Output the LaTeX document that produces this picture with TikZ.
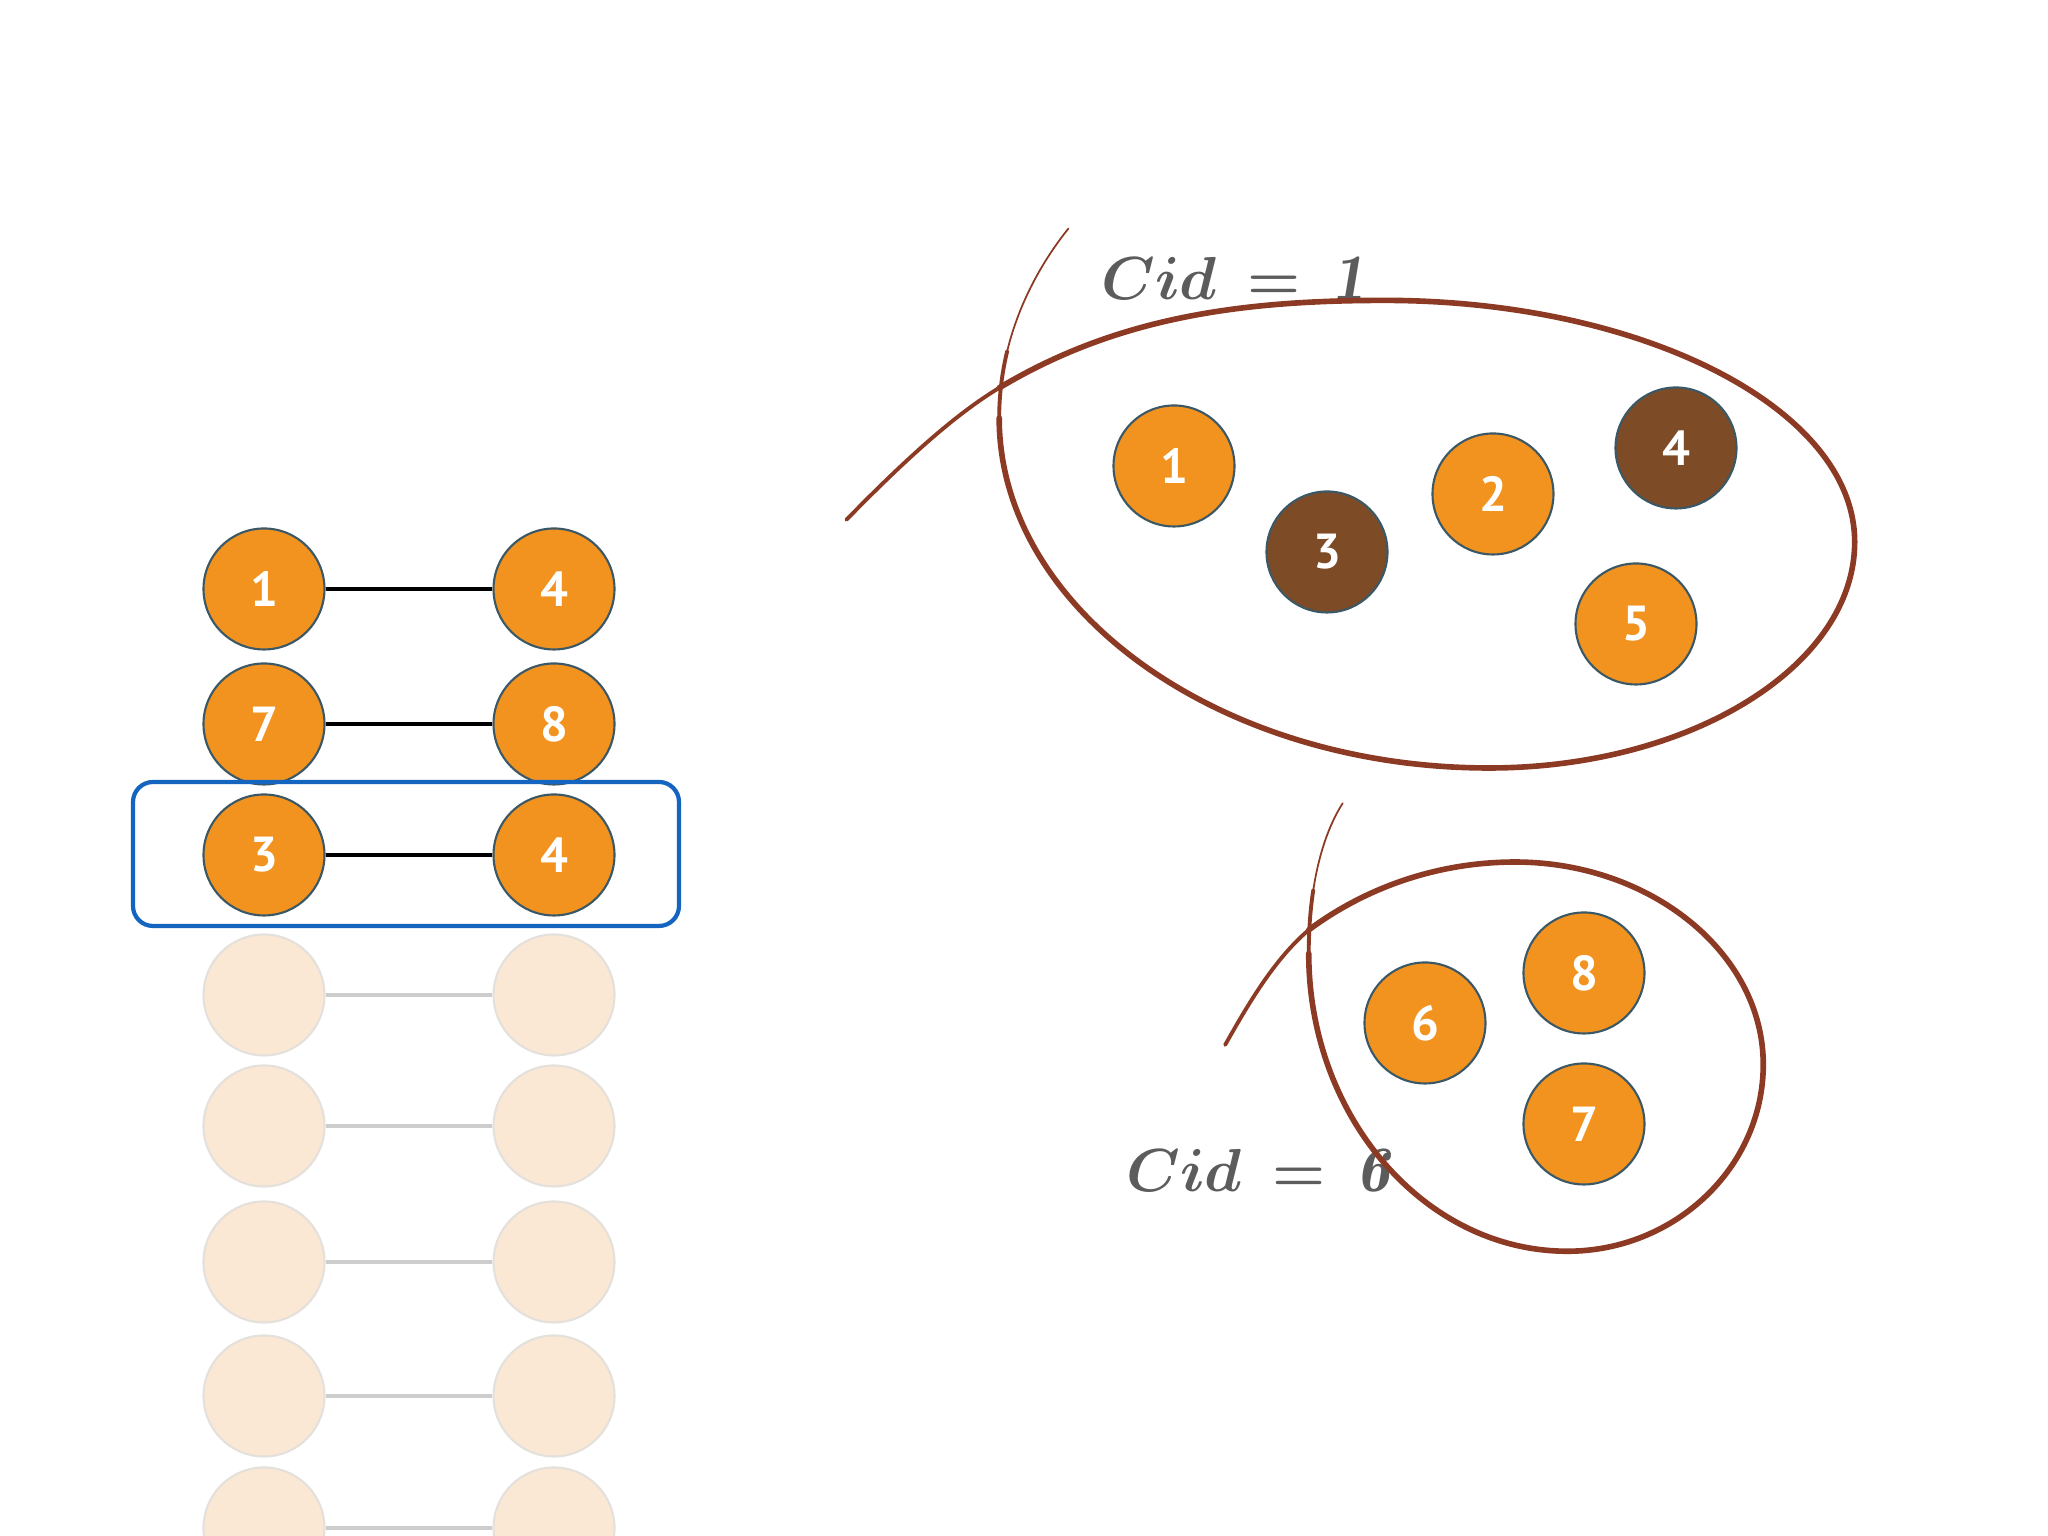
\documentclass[tikz,border=0pt]{standalone}
\usepackage{fontspec}
\newfontfamily\numfont{PT Sans}
\definecolor{nodeorange}{HTML}{F2921F}
\definecolor{rootbrown}{HTML}{7D4C27}
\definecolor{nodeedge}{HTML}{3A5866}
\definecolor{ghostfill}{HTML}{FBE8D4}
\definecolor{ghostedge}{HTML}{E4E0DC}
\definecolor{ghostline}{HTML}{CDCDCD}
\definecolor{pickblue}{HTML}{1565C0}
\definecolor{lassored}{HTML}{8C3A24}
\definecolor{labelgray}{HTML}{5C5C5C}

\begin{document}
\begin{tikzpicture}[
  vertex/.style={circle,draw=nodeedge,line width=0.6pt,fill=nodeorange,minimum size=1.21cm,inner sep=0pt,
    text=white,font=\numfont\bfseries\fontsize{14}{14}\selectfont},
  root/.style={vertex,fill=rootbrown},
  ghost/.style={circle,draw=ghostedge,line width=0.6pt,fill=ghostfill,minimum size=1.21cm,inner sep=0pt},
  link/.style={line width=1.1pt,black},
  fadedlink/.style={line width=1.1pt,ghostline},
  lasso/.style={line width=1.6pt,lassored,line cap=round},
  tail/.style={line width=0.5pt,lassored,line cap=round},
  cid/.style={text=labelgray,font=\fontsize{18.5}{22}\selectfont\boldmath,anchor=base}
]
\useasboundingbox (0,0) rectangle (20.48,15.36);
\clip (0,0) rectangle (20.48,15.36);

% edge list, processed top to bottom
\node[vertex] (l1) at (2.64,9.47) {1};
\node[vertex] (r1) at (5.54,9.47) {4};
\node[vertex] (l2) at (2.64,8.12) {7};
\node[vertex] (r2) at (5.54,8.12) {8};
\node[vertex] (l3) at (2.64,6.81) {3};
\node[vertex] (r3) at (5.54,6.81) {4};
\draw[link] (l1) -- (r1);
\draw[link] (l2) -- (r2);
\draw[link] (l3) -- (r3);

\node[draw=pickblue,line width=1.2pt,rounded corners=0.2cm,minimum width=5.46cm,minimum height=1.44cm] (pick) at (4.06,6.82) {};

% edges still to come
\node[ghost] (l4) at (2.64,5.41) {};
\node[ghost] (r4) at (5.54,5.41) {};
\node[ghost] (l5) at (2.64,4.10) {};
\node[ghost] (r5) at (5.54,4.10) {};
\node[ghost] (l6) at (2.64,2.74) {};
\node[ghost] (r6) at (5.54,2.74) {};
\node[ghost] (l7) at (2.64,1.40) {};
\node[ghost] (r7) at (5.54,1.40) {};
\node[ghost] (l8) at (2.64,0.08) {};
\node[ghost] (r8) at (5.54,0.08) {};
\draw[fadedlink] (l4) -- (r4);
\draw[fadedlink] (l5) -- (r5);
\draw[fadedlink] (l6) -- (r6);
\draw[fadedlink] (l7) -- (r7);
\draw[fadedlink] (l8) -- (r8);

% components
\node[vertex] (k1) at (11.74,10.70) {1};
\node[root]   (k3) at (13.27,9.84) {3};
\node[vertex] (k2) at (14.93,10.42) {2};
\node[root]   (k4) at (16.76,10.88) {4};
\node[vertex] (k5) at (16.36,9.12) {5};
\node[vertex] (k6) at (14.25,5.13) {6};
\node[vertex] (k8) at (15.84,5.63) {8};
\node[vertex] (k7) at (15.84,4.12) {7};

\node[cid] (cid1) at (12.33,12.36) {$Cid\,=\,\mathit{1}$};
\node[cid] (cid6) at (12.58,3.44) {$Cid\,=\,\mathit{6}$};

% hand drawn rings (screen pixels, y down)
\begin{scope}[x=0.01306cm,y=-0.01306cm,yshift=15.36cm]
\draw[lasso,line width=1.1pt] (648,398) .. controls (690,355) and (730,318) .. (765,297);
\draw[lasso] (765,297) .. controls (855,243) and (950,230) .. (1060,230)
  .. controls (1258,230) and (1420,313) .. (1420,415)
  .. controls (1420,510) and (1294,588) .. (1140,588)
  .. controls (934,588) and (765,467) .. (765,320);
\draw[lasso,line width=1.1pt] (765,320) .. controls (765,302) and (767.25,284.9) .. (771.15,268.8);
\draw[tail] (771.15,268.8) .. controls (780.27,231.35) and (798.4,199.5) .. (818,175);

\draw[lasso,line width=1.1pt] (938,800) .. controls (955,770) and (975,735) .. (1002,712);
\draw[lasso] (1002,712) .. controls (1045,680) and (1100,660) .. (1160,660)
  .. controls (1264,660) and (1350,730) .. (1350,815)
  .. controls (1350,894) and (1282,958) .. (1200,958)
  .. controls (1091,958) and (1002,855) .. (1002,730);
\draw[lasso,line width=1.1pt] (1002,730) .. controls (1002,712.5) and (1003.2,696.2) .. (1005.5,681.4);
\draw[tail] (1005.5,681.4) .. controls (1009.7,653.8) and (1017.6,631.25) .. (1028,615);
\end{scope}
\end{tikzpicture}
\end{document}
